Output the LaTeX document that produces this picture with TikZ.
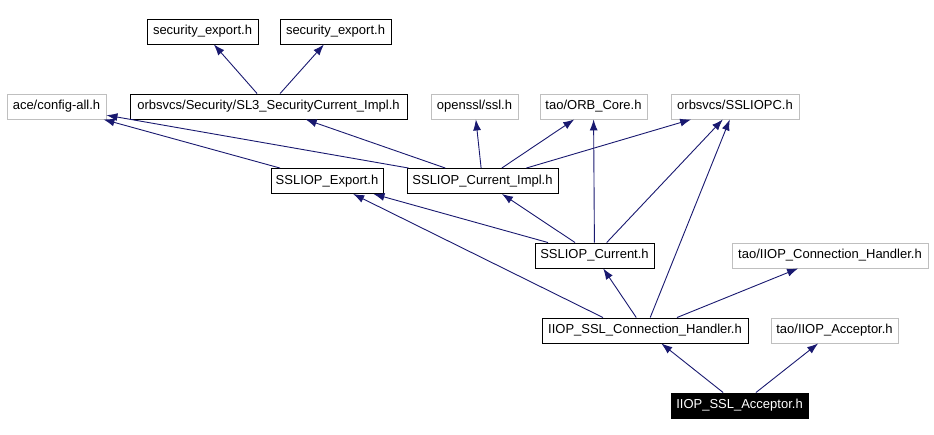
\documentclass[tikz,border=0pt]{standalone}
\usepackage{fontspec}
\setmainfont{Liberation Sans}
\usetikzlibrary{arrows.meta}
\definecolor{edgeblue}{RGB}{25,25,112}
\definecolor{boxgray}{RGB}{191,191,191}

\begin{document}
\begin{tikzpicture}
  [x=1pt,y=-1pt,font=\fontsize{13}{15}\selectfont,line width=0.9pt,
   every node/.style={draw=black,rectangle,inner sep=0pt,minimum height=25pt,text height=9.5pt,text depth=3pt},
   ext/.style={draw=boxgray},
   dep/.style={draw=edgeblue,-{Latex[length=11pt,width=8pt]}}]
  \useasboundingbox (0,0) rectangle (934,435);

  \node (sec1) at (202.5,31.5) [minimum width=111pt] {security\_export.h};
  \node (sec2) at (335.5,31.5) [minimum width=111pt] {security\_export.h};

  \node (config) at (56.5,106.5) [ext,minimum width=99pt] {ace/config-all.h};
  \node (sl3) at (268.5,106.5) [minimum width=277pt] {orbsvcs/Security/SL3\_SecurityCurrent\_Impl.h};
  \node (openssl) at (474.5,106.5) [ext,minimum width=87pt] {openssl/ssl.h};
  \node (orbcore) at (593.5,106.5) [ext,minimum width=107pt] {tao/ORB\_Core.h};
  \node (sslopc) at (735,106.5) [ext,minimum width=128pt] {orbsvcs/SSLIOPC.h};

  \node (export) at (327,181) [minimum width=112pt] {SSLIOP\_Export.h};
  \node (curimpl) at (482.5,181) [minimum width=151pt] {SSLIOP\_Current\_Impl.h};

  \node (current) at (594.5,255.5) [minimum width=119pt] {SSLIOP\_Current.h};
  \node (taoch) at (830,255.5) [ext,minimum width=196pt] {tao/IIOP\_Connection\_Handler.h};

  \node (sslch) at (645,330.5) [minimum width=206pt] {IIOP\_SSL\_Connection\_Handler.h};
  \node (taoacc) at (834.5,330.5) [ext,minimum width=127pt] {tao/IIOP\_Acceptor.h};

  \node (acceptor) at (739.5,405.5) [fill=black,text=white,minimum width=137pt] {IIOP\_SSL\_Acceptor.h};

  \draw[dep] (sl3) -- (sec1);
  \draw[dep] (sl3) -- (sec2);

  \draw[dep] (export) -- (config);
  \draw[dep] (curimpl) -- (config);
  \draw[dep] (curimpl) -- (sl3);
  \draw[dep] (curimpl) -- (openssl);
  \draw[dep] (curimpl) -- (orbcore);
  \draw[dep] (curimpl) -- (sslopc);

  \draw[dep] (current) -- (curimpl);
  \draw[dep] (current) -- (export);
  \draw[dep] (current) -- (orbcore);
  \draw[dep] (current) -- (sslopc);

  \draw[dep] ([xshift=-42pt]sslch.north) -- (export);
  \draw[dep] (sslch) -- (current);
  \draw[dep] (sslch) -- (sslopc);
  \draw[dep] (sslch) -- (taoch);

  \draw[dep] (acceptor) -- (sslch);
  \draw[dep] (acceptor) -- (taoacc);
\end{tikzpicture}
\end{document}
